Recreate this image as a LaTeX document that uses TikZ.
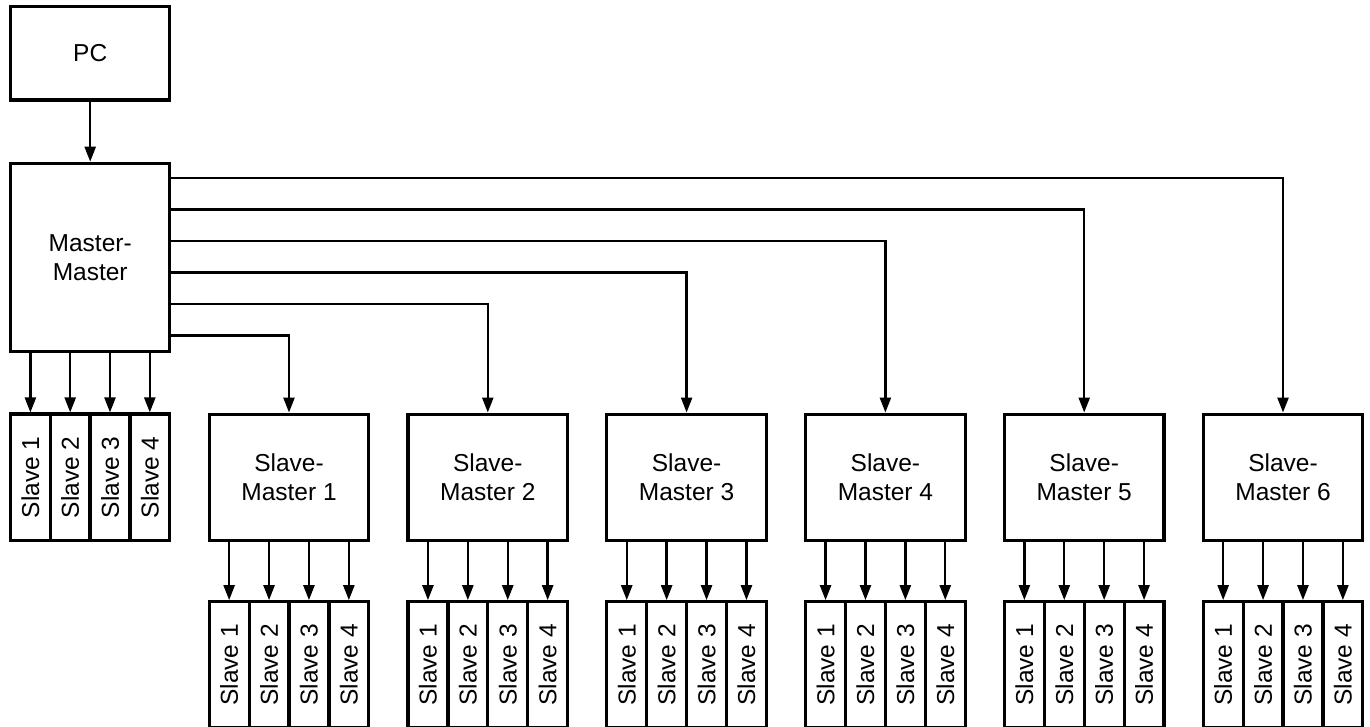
\documentclass[tikz,border=0pt]{standalone}
\usepackage{fontspec}
\setmainfont{Liberation Sans}
\usetikzlibrary{arrows.meta}
\begin{document}
\begin{tikzpicture}[x=1pt,y=-1pt,
 box/.style={draw, line width=3.2pt, inner sep=0pt, align=center, font=\fontsize{24.5}{29}\selectfont},
 smbox/.style={box, minimum width=159.6pt, minimum height=126.3pt},
 slavebox/.style={box, minimum width=39.9pt, minimum height=126.3pt},
 conn/.style={line width=2.4pt, -{Triangle[length=15pt,width=11pt]}}]
\useasboundingbox (0,0) rectangle (1370,727);
\node[box, minimum width=159.3pt, minimum height=93.3pt] (pc) at (90.2,53.3) {PC};
\node[box, minimum width=159.3pt, minimum height=188.4pt] (mm) at (90.2,257.5) {Master-\\Master};
\draw[conn] (pc) -- (mm);
\foreach \i in {1,...,4}{
  \node[slavebox] (ms\i) at ({10.5+39.8*(\i-0.5)},477.2) {\rotatebox{90}{Slave \i}};
  \draw[conn] (mm.south -| ms\i.north) -- (ms\i.north);
}
\foreach \j in {1,...,6}{
  \node[smbox] (sm\j) at ({289+198.8*(\j-1)},477.3) {Slave-\\Master \j};
  \coordinate (h\j) at (0,{335.3-31.4*(\j-1)});
  \draw[conn] (mm.east |- h\j) -| (sm\j.north);
  \foreach \i in {1,...,4}{
    \node[slavebox] (s\j\i) at ({209.2+39.9*(\i-0.5)+198.8*(\j-1)},664.9) {\rotatebox{90}{Slave \i}};
    \draw[conn] (sm\j.south -| s\j\i.north) -- (s\j\i.north);
  }
}
\end{tikzpicture}
\end{document}
